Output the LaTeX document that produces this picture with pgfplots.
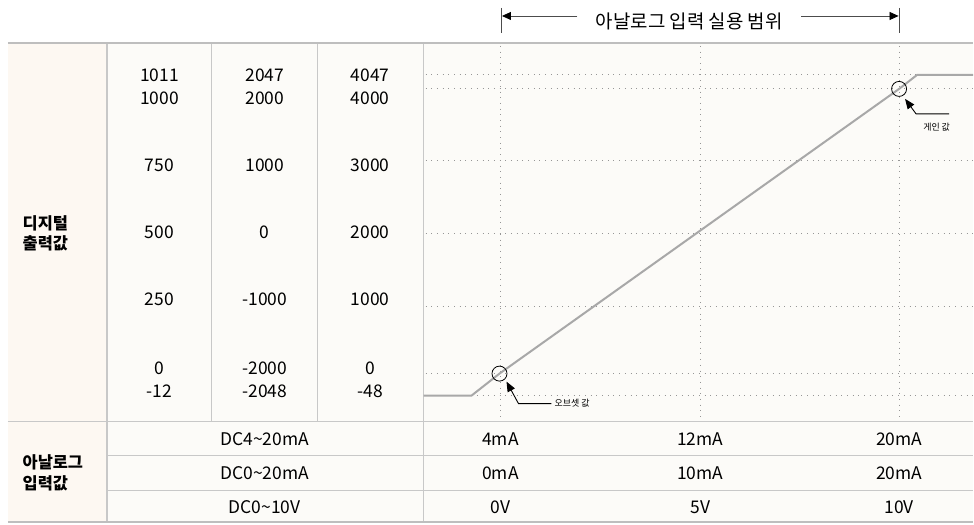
\documentclass[border=0pt]{standalone}
\usepackage{pgfplots}
\pgfplotsset{compat=1.18}
\usepackage{fontspec}
\setmainfont{Noto Sans CJK KR}
\usetikzlibrary{arrows.meta}
\definecolor{cream}{RGB}{253,248,242}
\definecolor{cellbg}{RGB}{252,251,248}
\definecolor{bordergray}{RGB}{200,200,200}
\definecolor{topgray}{RGB}{190,190,190}
\definecolor{gridgray}{RGB}{150,150,150}
\definecolor{linegray}{RGB}{168,168,168}
\begin{document}
\begin{tikzpicture}[
  num/.style={font=\fontsize{17.5}{20}\selectfont, inner sep=0pt, text height=12.8bp, text depth=0pt, anchor=center},
  ttl/.style={font=\fontsize{19}{22}\selectfont, inner sep=0pt, text height=14.4bp, text depth=0pt, anchor=center},
  hdr/.style={font=\fontsize{16.5}{20}\selectfont\bfseries, inner sep=0pt, text height=12.5bp, text depth=0pt, anchor=west},
  small/.style={font=\fontsize{9}{11}\selectfont, inner sep=0pt, text height=6.8bp, text depth=0pt},
  grd/.style={gridgray, line width=1bp, dash pattern=on 1bp off 4.7bp},
  bd/.style={bordergray, line width=1.3bp}
]
\begin{axis}[hide axis, scale only axis, x=1bp, y=1bp, y dir=reverse,
  xmin=0, xmax=974, ymin=0, ymax=525, clip=false]
% bounding box
\path (axis cs:0,0) rectangle (axis cs:974,525);
% backgrounds
\fill[cream] (axis cs:8,43) rectangle (axis cs:107,523);
\fill[cellbg] (axis cs:107,43) rectangle (axis cs:974,523);
% grid
\foreach \yy in {75,89,161,234,307,374,396} {
  \edef\tmp{\noexpand\draw[grd] (axis cs:426,\yy) -- (axis cs:974,\yy);}\tmp
}
\foreach \xx in {501,701,900} {
  \edef\tmp{\noexpand\draw[grd] (axis cs:\xx,46) -- (axis cs:\xx,421);}\tmp
}
% borders
\draw[bd] (axis cs:8,422) -- (axis cs:974,422);
\draw[bd] (axis cs:107,456) -- (axis cs:974,456);
\draw[bd] (axis cs:107,491) -- (axis cs:974,491);
\draw[bd] (axis cs:107,43) -- (axis cs:107,523);
\draw[bd] (axis cs:212,43) -- (axis cs:212,422);
\draw[bd] (axis cs:318,43) -- (axis cs:318,422);
\draw[bd] (axis cs:424,43) -- (axis cs:424,523);
\draw[topgray, line width=2bp] (axis cs:8,43) -- (axis cs:974,43);
\draw[topgray, line width=2bp] (axis cs:8,523) -- (axis cs:974,523);
% transfer line
\addplot[linegray, line width=2bp, no marks] coordinates {(424,396) (472,396) (500,374) (900,89) (918,75) (974,75)};
% circles
\draw[black, line width=0.8bp] (axis cs:500,374) circle[radius=7.5bp];
\draw[black, line width=0.8bp] (axis cs:900,89) circle[radius=7.5bp];
% annotation arrows
\draw[black, line width=0.9bp, -{Triangle[length=10bp,width=8bp]}] (axis cs:950,114) -- (axis cs:917,114) -- (axis cs:906,99);
\node[small, anchor=west] at (axis cs:924,127) {게인 값};
\draw[black, line width=0.9bp, -{Triangle[length=10bp,width=8bp]}] (axis cs:552,404) -- (axis cs:519,404) -- (axis cs:507,382);
\node[small, anchor=west] at (axis cs:555,404) {오브셋 값};
% title
\draw[black!70, line width=0.8bp] (axis cs:502,8) -- (axis cs:502,33);
\draw[black!70, line width=0.8bp] (axis cs:900,8) -- (axis cs:900,33);
\draw[black!70, line width=0.8bp, -{Triangle[length=9bp,width=8bp,color=black]}] (axis cs:578,16) -- (axis cs:502.5,16);
\draw[black!70, line width=0.8bp, -{Triangle[length=9bp,width=8bp,color=black]}] (axis cs:802,16) -- (axis cs:899.5,16);
\node[ttl] at (axis cs:690,21) {아날로그 입력 실용 범위};
% left headers
\node[hdr] at (axis cs:22.5,223) {디지털};
\node[hdr] at (axis cs:22.5,244) {출력값};
\node[hdr] at (axis cs:22.5,463) {아날로그};
\node[hdr] at (axis cs:22.5,484) {입력값};
% column 1
\node[num] at (axis cs:159.5,75) {1011};
\node[num] at (axis cs:159.5,98.5) {1000};
\node[num] at (axis cs:159.5,165) {750};
\node[num] at (axis cs:159.5,232) {500};
\node[num] at (axis cs:159.5,299.5) {250};
\node[num] at (axis cs:159.5,368) {0};
\node[num] at (axis cs:159.5,392) {-12};
% column 2
\node[num] at (axis cs:265,75) {2047};
\node[num] at (axis cs:265,98.5) {2000};
\node[num] at (axis cs:265,165) {1000};
\node[num] at (axis cs:265,232) {0};
\node[num] at (axis cs:265,299.5) {-1000};
\node[num] at (axis cs:265,368) {-2000};
\node[num] at (axis cs:265,392) {-2048};
% column 3
\node[num] at (axis cs:370.5,75) {4047};
\node[num] at (axis cs:370.5,98.5) {4000};
\node[num] at (axis cs:370.5,165) {3000};
\node[num] at (axis cs:370.5,232) {2000};
\node[num] at (axis cs:370.5,299.5) {1000};
\node[num] at (axis cs:370.5,368) {0};
\node[num] at (axis cs:370.5,392) {-48};
% bottom rows
\node[num] at (axis cs:265,440) {DC4\textasciitilde20mA};
\node[num] at (axis cs:265,474) {DC0\textasciitilde20mA};
\node[num] at (axis cs:265,508) {DC0\textasciitilde10V};
\node[num] at (axis cs:501,440) {4mA};
\node[num] at (axis cs:701,440) {12mA};
\node[num] at (axis cs:900,440) {20mA};
\node[num] at (axis cs:501,474) {0mA};
\node[num] at (axis cs:701,474) {10mA};
\node[num] at (axis cs:900,474) {20mA};
\node[num] at (axis cs:501,508) {0V};
\node[num] at (axis cs:701,508) {5V};
\node[num] at (axis cs:900,508) {10V};
\end{axis}
\end{tikzpicture}
\end{document}
